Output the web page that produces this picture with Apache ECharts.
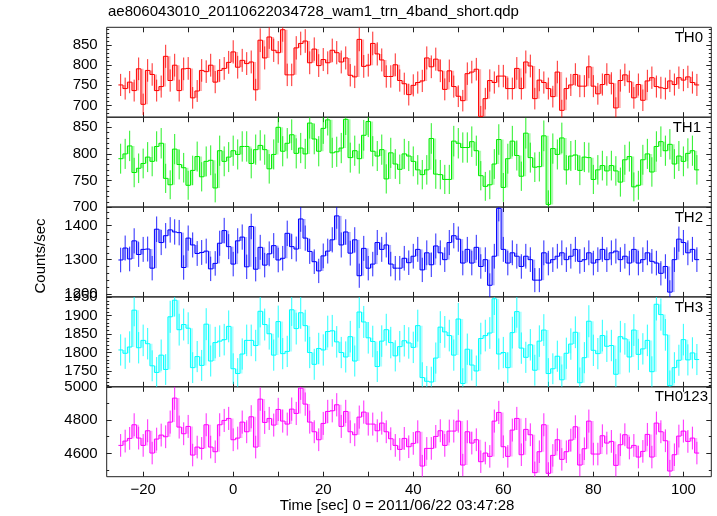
<!DOCTYPE html>
<html><head><meta charset="utf-8">
<script src="https://cdn.jsdelivr.net/npm/echarts@6/dist/echarts.min.js"></script>
<style>html,body{margin:0;padding:0;background:#fff}#c{width:717px;height:516px}</style>
</head><body><div id="c"></div>
<script>
const times = [-25,-24,-23,-22,-21,-20,-19,-18,-17,-16,-15,-14,-13,-12,-11,-10,-9,-8,-7,-6,-5,-4,-3,-2,-1,0,1,2,3,4,5,6,7,8,9,10,11,12,13,14,15,16,17,18,19,20,21,22,23,24,25,26,27,28,29,30,31,32,33,34,35,36,37,38,39,40,41,42,43,44,45,46,47,48,49,50,51,52,53,54,55,56,57,58,59,60,61,62,63,64,65,66,67,68,69,70,71,72,73,74,75,76,77,78,79,80,81,82,83,84,85,86,87,88,89,90,91,92,93,94,95,96,97,98,99,100,101,102,103];

const th0 = [751,742,758,737,791,703,787,777,737,747,822,762,800,737,791,792,719,736,787,784,800,758,787,792,807,833,795,812,804,808,739,862,818,870,837,831,888,776,776,843,854,860,806,840,799,814,806,837,831,808,818,775,771,864,797,800,854,828,813,772,772,801,762,754,727,
750,757,761,818,796,815,786,740,786,747,723,712,779,783,790,673,717,762,757,773,773,742,742,792,742,808,798,717,763,757,742,722,783,688,742,751,777,748,748,796,748,729,752,777,755,694,762,776,759,719,752,713,761,769,747,744,742,761,752,769,763,771,757,751];

const th1 = [791,800,815,765,773,782,794,786,814,820,754,742,809,780,774,741,769,795,757,786,788,736,806,786,794,806,799,814,814,782,808,816,808,772,799,850,805,820,836,801,811,800,858,828,805,848,864,802,804,811,865,793,806,791,835,861,805,796,808,753,802,781,771,800,796,
786,770,761,770,829,762,761,752,752,824,820,812,812,823,806,759,739,742,781,827,737,791,824,797,758,839,793,775,776,834,705,810,799,830,770,796,798,769,794,793,752,770,778,768,778,768,747,789,795,738,741,789,800,766,814,823,806,818,781,796,786,801,806,770];

const th2 = [1299,1334,1302,1355,1315,1330,1331,1275,1389,1350,1370,1387,1381,1379,1277,1363,1343,1318,1321,1325,1273,1289,1348,1385,1338,1287,1355,1366,1279,1397,1272,1336,1284,1317,1341,1299,1304,1377,1338,1331,1419,1363,1324,1294,1267,1311,1325,1358,1428,1343,1381,1319,1358,1253,1333,1275,1287,1350,1330,1343,1287,1275,1275,1304,1291,
1310,1330,1270,1320,1285,1340,1320,1300,1350,1370,1360,1290,1330,1290,1336,1280,1300,1225,1310,1450,1330,1290,1320,1310,1280,1310,1300,1240,1240,1320,1290,1300,1310,1320,1300,1310,1330,1295,1300,1320,1290,1300,1330,1300,1320,1325,1300,1310,1290,1330,1290,1300,1320,1295,1290,1260,1280,1205,1300,1360,1350,1320,1330,1300];

const th3 = [1807,1798,1815,1915,1813,1833,1824,1764,1746,1793,1754,1897,1942,1862,1876,1866,1759,1789,1765,1877,1777,1827,1831,1835,1871,
1756,1743,1796,1833,1833,1819,1912,1876,1851,1793,1884,1797,1803,1916,1865,1908,1873,1800,1768,1811,1807,1857,1859,1829,1800,1788,1843,1777,1910,1883,1840,1830,1762,1831,1862,1827,1791,1816,1832,1826,
1814,1873,1732,1722,1720,1785,1869,1856,1846,1793,1891,1716,1809,1766,1750,1838,1846,1853,1946,1796,1800,1759,1854,1911,1812,1787,1821,1752,1831,1861,1743,1756,1790,1726,1798,1823,1855,1718,1786,1885,1806,1797,1846,1817,1819,1741,1843,1837,1788,1861,1795,1810,1833,1748,1931,1903,1848,1710,1759,1779,1835,1780,1799,1781];

const th0123 = [4648,4674,4690,4772,4692,4648,4736,4602,4686,4710,4700,4788,4932,4758,4718,4762,4590,4638,4630,4772,4638,4610,4772,4798,4810,4682,4692,4788,4730,4820,4638,4926,4786,4810,4770,4864,4794,4776,4866,4840,4992,4896,4788,4730,4682,4780,4852,4856,4892,4762,4852,4730,4712,4818,
4848,4776,4776,4736,4782,4730,4688,4648,4624,4690,4640,4660,4730,4524,4630,4630,4702,4736,4648,4734,4734,4794,4530,4730,4662,4682,4550,4602,4582,4794,4846,4640,4582,4740,4810,4592,4744,4712,4484,4610,4772,4480,4588,4682,4564,4610,4680,4760,4530,4628,4794,4596,4596,4706,4662,4672,4528,4652,4712,4632,4648,4578,4612,4714,4578,4782,4730,4676,4494,4592,4704,4734,4672,4692,4602];

const panelNames = ['TH0', 'TH1', 'TH2', 'TH3', 'TH0123'];
const panelSeries = [th0, th1, th2, th3, th0123];
const panelColors = ['#ff0000', '#00ee00', '#0000ff', '#00ffff', '#ff00ff'];
const yRanges = [[671, 894], [700, 869], [1191, 1454], [1707, 1951], [4460, 5000]];
const yMajorTicks = [[700, 750, 800, 850], [700, 750, 800, 850], [1200, 1300, 1400], [1750, 1800, 1850, 1900, 1950], [4600, 4800, 5000]];
const yMinorStep = [10, 10, 20, 10, 100];
const xTickValues = [-20, -10, 0, 10, 20, 30, 40, 50, 60, 70, 80, 90, 100];
const xLabelValues = [-20, 0, 20, 40, 60, 80, 100];
const titleText = 'ae806043010_20110622034728_wam1_trn_4band_short.qdp';
const xTitle = 'Time [sec] 0 = 2011/06/22 03:47:28';
const yTitle = 'Counts/sec';
const binWidth = 1;

const FONT = '"Liberation Sans", Arial, Helvetica, sans-serif';
const AX = '#222';
const X_MIN = -28.1, X_MAX = 106.2;
const GRID_LEFT = 106.7, GRID_W = 604.6, GRID_H = 89.9;
const GRID_TOPS = [27.3, 117.2, 207.0, 296.9, 386.8];
const labelRight = [703, 701, 703, 703, 708];

function minorTicks(i) {
  const out = [];
  const s = yMinorStep[i];
  for (let v = Math.ceil(yRanges[i][0] / s) * s; v <= yRanges[i][1]; v += s) out.push(v);
  return out;
}

const grids = [], xAxes = [], yAxes = [], series = [], graphics = [];
for (let i = 0; i < 5; i++) {
  grids.push({left: GRID_LEFT, top: GRID_TOPS[i], width: GRID_W, height: GRID_H,
    show: true, borderColor: AX, borderWidth: 1, backgroundColor: 'transparent'});
  ['bottom', 'top'].forEach(pos => {
    xAxes.push({type: 'value', gridIndex: i, position: pos, min: X_MIN, max: X_MAX,
      axisLine: {show: false, onZero: false}, splitLine: {show: false},
      axisTick: {show: true, inside: true, length: 5, customValues: xTickValues, lineStyle: {color: AX, width: 1}},
      axisLabel: {show: (i === 4 && pos === 'bottom'), customValues: xLabelValues, color: '#000', fontSize: 15, fontFamily: FONT, margin: 6,
        formatter: v => (v < 0 ? '\u2212' + Math.abs(v) : String(v))}
    });
  });
  const mt = minorTicks(i);
  [['left', true], ['left', false], ['right', true], ['right', false]].forEach(([pos, major]) => {
    yAxes.push({type: 'value', gridIndex: i, position: pos, min: yRanges[i][0], max: yRanges[i][1],
      axisLine: {show: false, onZero: false}, splitLine: {show: false},
      axisTick: {show: true, inside: true, length: major ? 5 : 2.5, customValues: major ? yMajorTicks[i] : mt, lineStyle: {color: AX, width: 1}},
      axisLabel: {show: (pos === 'left' && major), customValues: yMajorTicks[i], color: '#000', fontSize: 15, fontFamily: FONT, margin: 9,
        formatter: v => String(v)}
    });
  });
  const vals = panelSeries[i];
  const color = panelColors[i];
  const data = [];
  for (let k = 0; k < times.length && k < vals.length; k++) {
    data.push([times[k], vals[k], Math.sqrt(vals[k]), k > 0 ? vals[k - 1] : vals[k]]);
  }
  series.push({
    type: 'custom', xAxisIndex: i * 2, yAxisIndex: i * 4, clip: true, silent: true,
    data: data,
    renderItem: (params, api) => {
      const t = api.value(0), v = api.value(1), e = api.value(2), pv = api.value(3);
      const pL = api.coord([t - binWidth / 2, v]);
      const pR = api.coord([t + binWidth / 2, v]);
      const pP = api.coord([t - binWidth / 2, pv]);
      const eT = api.coord([t, v + e]);
      const eB = api.coord([t, v - e]);
      const yTop = Math.min(pL[1], pP[1]), yBot = Math.max(pL[1], pP[1]);
      return {type: 'group', children: [
        {type: 'rect', shape: {x: pL[0], y: yTop, width: 2.6, height: yBot - yTop}, style: {fill: color, opacity: 0.32}},
        {type: 'line', shape: {x1: eT[0], y1: eT[1], x2: eB[0], y2: eB[1]}, style: {stroke: color, lineWidth: 1, opacity: 0.85}},
        {type: 'line', shape: {x1: pP[0], y1: pP[1], x2: pL[0], y2: pL[1]}, style: {stroke: color, lineWidth: 1}},
        {type: 'line', shape: {x1: pL[0], y1: pL[1], x2: pR[0], y2: pR[1]}, style: {stroke: color, lineWidth: 1}}
      ]};
    }
  });
  graphics.push({type: 'text', right: 717 - labelRight[i], top: GRID_TOPS[i] + 3,
    style: {text: panelNames[i], font: '15px ' + FONT, fill: '#000'}});
}

graphics.push({type: 'text', left: 108, top: 4, style: {text: titleText, font: '15px ' + FONT, fill: '#000'}});
graphics.push({type: 'text', x: 397, y: 506, style: {text: xTitle, font: '15px ' + FONT, fill: '#000', align: 'center', verticalAlign: 'middle'}});
graphics.push({type: 'text', x: 41, y: 256, rotation: Math.PI / 2, style: {text: yTitle, font: '15px ' + FONT, fill: '#000', align: 'center', verticalAlign: 'middle'}});

const chart = echarts.init(document.getElementById('c'), null, {renderer: 'canvas'});
chart.setOption({
  animation: false,
  backgroundColor: '#fff',
  grid: grids, xAxis: xAxes, yAxis: yAxes, series: series, graphic: graphics
});
</script>
</body></html>
